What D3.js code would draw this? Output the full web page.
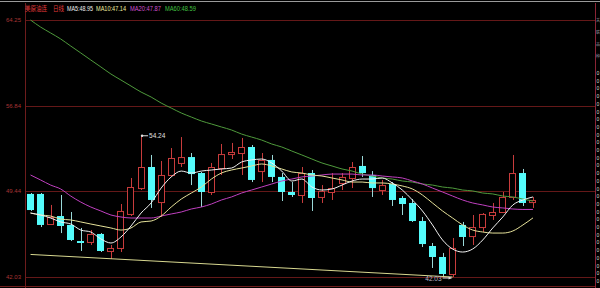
<!DOCTYPE html>
<html>
<head>
<meta charset="utf-8">
<script src="https://cdn.jsdelivr.net/npm/d3@7/dist/d3.min.js"></script>
<style>
  body { margin: 0; background: #000; }
  svg { display: block; }
</style>
</head>
<body>
<svg id="chart" width="600" height="288" viewBox="0 0 600 288"></svg>
<script>
// daily candles, oldest first
const opens  = [49.21,49.21,46.61,47.30,46.53,45.14,45.06,45.75,44.28,44.54,47.48,49.72,51.54,48.51,50.85,51.89,52.40,51.02,49.38,51.45,52.66,52.75,53.27,51.19,52.15,50.68,49.38,49.12,51.02,48.95,49.38,50.16,50.59,51.63,50.85,49.55,50.07,48.86,48.43,46.87,44.71,43.76,42.29,46.53,45.57,46.35,47.39,47.65,48.95,51.02,48.51];
const highs  = [49.29,49.29,48.26,49.12,47.65,46.27,46.09,45.83,44.80,48.34,50.59,54.24,52.58,52.06,53.18,54.13,52.75,51.11,51.89,53.53,53.62,54.05,53.44,52.75,52.58,51.02,50.24,51.54,51.28,49.98,51.02,51.02,51.97,52.49,51.19,50.42,50.24,49.03,48.77,47.22,44.97,44.11,45.40,46.79,47.39,47.56,48.43,49.38,52.58,51.37,48.95];
const lows   = [47.74,46.35,46.53,45.83,45.14,44.28,44.80,44.19,43.59,44.19,47.30,49.55,48.00,47.22,50.68,51.54,49.98,48.08,49.12,50.85,52.23,50.85,50.24,50.24,50.24,48.60,48.95,48.43,47.74,48.43,48.69,49.55,49.72,50.68,48.95,49.12,48.17,47.39,46.79,44.62,42.81,42.12,42.03,44.71,44.80,45.92,46.96,47.56,48.69,48.17,48.00];
const closes = [47.82,46.53,47.22,46.44,45.23,44.97,45.75,44.28,44.54,47.74,49.81,51.54,48.69,50.85,52.32,52.40,50.93,49.38,51.54,52.66,52.84,53.27,50.42,52.15,50.68,49.38,49.12,51.02,48.86,49.47,49.72,50.68,51.54,51.02,49.72,49.98,48.69,48.34,46.87,44.88,43.76,42.29,44.54,45.49,46.35,47.48,47.65,48.95,51.02,48.43,48.69];

// moving averages
const ma5  = [47.56,47.39,47.13,46.79,46.61,46.09,45.92,45.32,44.97,45.49,46.44,47.56,48.43,49.72,50.68,51.19,51.02,51.19,51.28,51.37,51.45,51.97,52.15,52.23,51.89,51.19,50.33,50.50,49.81,49.55,49.64,49.98,50.33,50.50,50.50,50.59,50.16,49.55,48.69,47.74,46.53,45.23,44.45,44.19,44.45,45.23,46.27,47.22,48.26,48.69,48.95];
const ma10 = [47.56,47.39,47.30,47.04,46.96,46.79,46.61,46.44,46.27,46.09,46.27,46.79,46.87,47.30,48.08,48.77,49.29,49.81,50.50,51.02,51.28,51.45,51.63,51.80,51.63,51.37,51.11,51.02,50.85,50.76,50.59,50.42,50.24,50.24,50.16,50.16,50.07,49.90,49.64,49.12,48.43,47.74,47.13,46.53,46.09,45.92,45.83,45.83,46.01,46.53,47.14];
const ma20 = [50.85,50.42,49.98,49.64,49.03,48.51,48.08,47.74,47.39,47.22,47.13,47.13,47.13,47.30,47.48,47.65,47.91,48.08,48.34,48.69,48.95,49.29,49.55,49.81,50.07,50.33,50.50,50.68,50.76,50.85,50.93,50.93,50.93,50.85,50.85,50.76,50.68,50.59,50.33,50.07,49.72,49.38,49.03,48.69,48.43,48.26,48.08,48.00,47.91,47.87,47.87];
const ma60 = [64.25,63.64,63.13,62.61,62.00,61.40,60.79,60.19,59.58,59.06,58.54,58.02,57.59,57.07,56.64,56.21,55.86,55.52,55.26,55.00,54.74,54.39,54.13,53.87,53.53,53.27,52.92,52.58,52.23,51.89,51.63,51.37,51.19,50.93,50.76,50.59,50.50,50.33,50.24,50.07,49.98,49.81,49.72,49.55,49.47,49.29,49.21,49.03,48.95,48.77,48.59];

// support line drawn under the lows (candle index, price)
const trendLine = [[0, 43.98], [42, 42.03]];

const priceTicks = [64.25, 56.84, 49.44, 42.03];
const highMark = {i: 11, v: 54.24};
const lowMark  = {i: 42, v: 42.03};

const legendItems = [
  {text: "美原油连",   x: 25,  w: 22, color: "#e23a3a"},
  {text: "日线",       x: 53,  w: 11, color: "#e23a3a"},
  {text: "MA5:48.95",  x: 67,  w: 26, color: "#f0f0f0"},
  {text: "MA10:47.14", x: 96,  w: 30, color: "#f0f0a0"},
  {text: "MA20:47.87", x: 130, w: 31, color: "#d050d0"},
  {text: "MA60:48.59", x: 165, w: 31, color: "#40c040"}
];

const svg = d3.select("#chart");
const width = 600, height = 288;
const left = 25, right = 595;

svg.append("rect").attr("width", width).attr("height", height).attr("fill", "#000");

const x = d3.scaleBand()
  .domain(d3.range(closes.length))
  .range([25.5, 538])
  .paddingInner(0.3)
  .paddingOuter(0.15);
const cx = i => x(i) + x.bandwidth() / 2;

const y = d3.scaleLinear().domain([42.03, 64.25]).range([277, 20]);

// frame + grid
svg.append("line").attr("x1", 0).attr("x2", width).attr("y1", 1.5).attr("y2", 1.5)
  .attr("stroke", "#9a9a9a").attr("stroke-width", 1);

svg.append("g").selectAll("line")
  .data(priceTicks)
  .join("line")
  .attr("x1", left).attr("x2", right)
  .attr("y1", d => Math.round(y(d)) + 0.5).attr("y2", d => Math.round(y(d)) + 0.5)
  .attr("stroke", "#641818").attr("stroke-width", 1);

svg.append("line").attr("x1", left + 0.5).attr("x2", left + 0.5).attr("y1", 3).attr("y2", height)
  .attr("stroke", "#6e1c1c");
svg.append("line").attr("x1", right + 0.5).attr("x2", right + 0.5).attr("y1", 3).attr("y2", height)
  .attr("stroke", "#8a2434");
svg.append("line").attr("x1", 0).attr("x2", right).attr("y1", 286.5).attr("y2", 286.5)
  .attr("stroke", "#6e1c1c");

svg.append("g").selectAll("text")
  .data(priceTicks)
  .join("text")
  .attr("x", 21).attr("y", d => y(d) + 2)
  .attr("text-anchor", "end")
  .attr("font-family", "Liberation Sans, Arial, sans-serif")
  .attr("font-size", 6)
  .attr("fill", "#a83434")
  .text(d => d.toFixed(2));

// candles
const candles = d3.range(closes.length).map(i => ({
  i, o: opens[i], h: highs[i], l: lows[i], c: closes[i], up: closes[i] >= opens[i]
}));

const g = svg.append("g");
g.selectAll(".wick")
  .data(candles)
  .join("line")
  .attr("class", "wick")
  .attr("x1", d => Math.round(cx(d.i)) + 0.5).attr("x2", d => Math.round(cx(d.i)) + 0.5)
  .attr("y1", d => y(d.h)).attr("y2", d => y(d.l))
  .attr("stroke", d => d.up ? "#c83c3c" : "#9ad8d8");

g.selectAll(".body")
  .data(candles)
  .join("rect")
  .attr("class", "body")
  .attr("x", d => Math.round(x(d.i)) + (d.up ? 0.5 : 0))
  .attr("width", d => Math.round(x.bandwidth()) - (d.up ? 1 : 0))
  .attr("y", d => y(Math.max(d.o, d.c)) + (d.up ? 0.5 : 0))
  .attr("height", d => Math.max(1, Math.abs(y(d.o) - y(d.c))))
  .attr("fill", d => d.up ? "#000" : "#54fcfc")
  .attr("stroke", d => d.up ? "#c83c3c" : "none");

// moving averages
const maLine = d3.line().x((d, i) => cx(i)).y(d => y(d)).curve(d3.curveMonotoneX);
const maSeries = [
  {vals: ma60, color: "#4f9a3c"},
  {vals: ma20, color: "#c040c0"},
  {vals: ma10, color: "#e6e29a"},
  {vals: ma5,  color: "#f2f2f2"}
];
svg.append("g").selectAll("path")
  .data(maSeries)
  .join("path")
  .attr("d", d => maLine(d.vals))
  .attr("fill", "none")
  .attr("stroke", d => d.color)
  .attr("stroke-width", 1);

// support line
svg.append("path")
  .attr("d", d3.line().x(d => cx(d[0])).y(d => y(d[1]))(trendLine))
  .attr("fill", "none")
  .attr("stroke", "#d8d890")
  .attr("stroke-width", 1);

// high / low markers
const hx = cx(highMark.i), hy = y(highMark.v);
svg.append("line").attr("x1", hx).attr("x2", hx + 7).attr("y1", hy).attr("y2", hy)
  .attr("stroke", "#e0e0e0");
svg.append("circle").attr("cx", hx + 1).attr("cy", hy).attr("r", 1.2).attr("fill", "#e0e0e0");
svg.append("text").attr("x", hx + 8).attr("y", hy + 2.2)
  .attr("font-family", "Liberation Sans, Arial, sans-serif").attr("font-size", 6.5)
  .attr("fill", "#e0e0e0").text(highMark.v.toFixed(2));

const lx = cx(lowMark.i), ly = y(lowMark.v);
svg.append("line").attr("x1", lx - 10).attr("x2", lx - 1).attr("y1", ly + 1).attr("y2", ly + 1)
  .attr("stroke", "#e0e0e0");
svg.append("path")
  .attr("d", `M${lx - 1},${ly + 1}l-3,-1.5v3z`)
  .attr("fill", "#e0e0e0");
svg.append("text").attr("x", lx - 11).attr("y", ly + 4)
  .attr("text-anchor", "end")
  .attr("font-family", "Liberation Sans, Arial, sans-serif").attr("font-size", 6.5)
  .attr("fill", "#b8b8c8").text(lowMark.v.toFixed(2));

// legend
svg.append("g").selectAll("text")
  .data(legendItems)
  .join("text")
  .attr("x", d => d.x).attr("y", 10.5)
  .attr("font-family", "Liberation Sans Narrow, Liberation Sans, Noto Sans CJK SC, sans-serif")
  .attr("font-size", 6.5)
  .attr("textLength", d => d.w)
  .attr("lengthAdjust", "spacingAndGlyphs")
  .attr("fill", d => d.color)
  .text(d => d.text);

// clipped right-hand panel column
svg.append("g").selectAll("text")
  .data("关联品种".split(""))
  .join("text")
  .attr("x", 596).attr("y", (d, i) => 22 + i * 12)
  .attr("font-family", "Noto Sans CJK SC, sans-serif").attr("font-size", 4)
  .attr("fill", "#9a9aa8").text(d => d);
svg.append("g").selectAll("text")
  .data(d3.range(75, 290, 7.7))
  .join("text")
  .attr("x", 596.5).attr("y", d => d)
  .attr("font-family", "Liberation Sans, sans-serif").attr("font-size", 5)
  .attr("fill", "#d8d8d8").text("0");
</script>
</body>
</html>
